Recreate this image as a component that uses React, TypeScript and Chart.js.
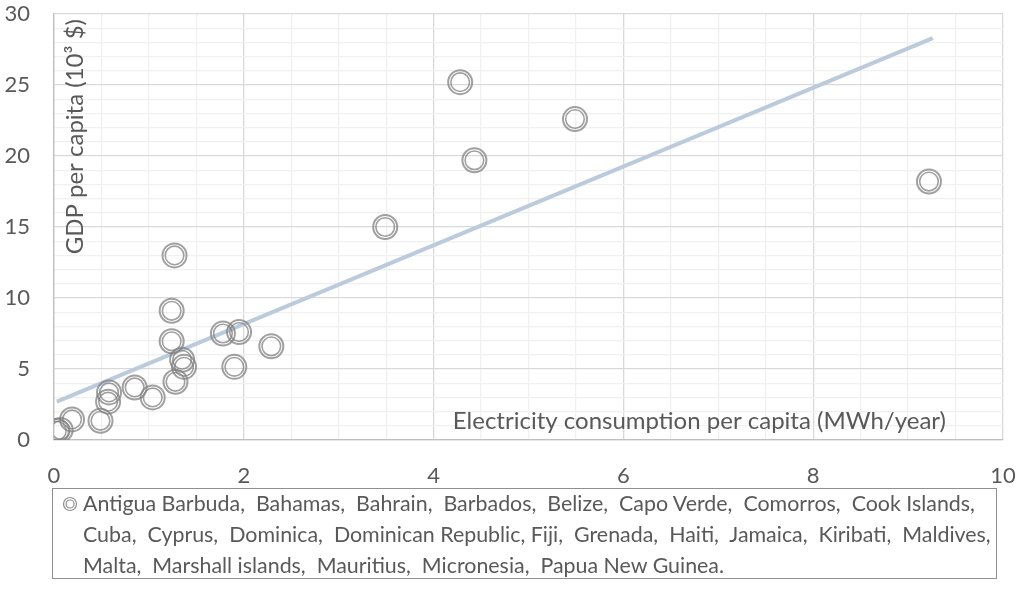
import React, { useEffect, useRef } from "react";
import { Chart, registerables } from "chart.js";

Chart.register(...registerables);

// Electricity consumption per capita (MWh/year)
const electricity = [0.03, 0.07, 0.19, 0.49, 0.57, 0.58, 0.85, 1.04, 1.28, 1.27, 1.24, 1.24, 1.35, 1.37, 1.78, 1.95, 1.9, 2.29, 3.49, 4.28, 4.43, 5.49, 9.22];
// GDP per capita (10^3 $)
const gdp = [0.65, 0.7, 1.45, 1.35, 2.7, 3.35, 3.7, 3.0, 4.1, 13.0, 9.1, 6.95, 5.65, 5.15, 7.5, 7.6, 5.15, 6.6, 15.0, 25.2, 19.7, 22.6, 18.2];
// Linear trend end points
const trendX = [0.03, 9.26];
const trendY = [2.7, 28.3];

const countries = [
  "Antigua Barbuda,  Bahamas,  Bahrain,  Barbados,  Belize,  Capo Verde,  Comorros,  Cook Islands,",
  "Cuba,  Cyprus,  Dominica,  Dominican Republic, Fiji,  Grenada,  Haiti,  Jamaica,  Kiribati,  Maldives,",
  "Malta,  Marshall islands,  Mauritius,  Micronesia,  Papua New Guinea.",
];

const xTitle = "Electricity consumption per capita (MWh/year)";
const yTitle = "GDP per capita (10³ $)";

const FONT = "Lato, 'Open Sans', sans-serif";
const TEXT = "#595959";

export default function App() {
  const ref = useRef<HTMLCanvasElement | null>(null);

  useEffect(() => {
    if (!ref.current) return;
    const pts = electricity.map((x, i) => ({ x, y: gdp[i] }));
    const trend = trendX.map((x, i) => ({ x, y: trendY[i] }));

    const titlePlugin = {
      id: "innerTitles",
      afterDraw(chart: any) {
        const { ctx, chartArea } = chart;
        ctx.save();
        ctx.fillStyle = TEXT;
        ctx.font = `24px ${FONT}`;
        ctx.textAlign = "right";
        ctx.textBaseline = "middle";
        ctx.fillText(xTitle, chartArea.right - 57, chartArea.bottom - 19);
        ctx.translate(chartArea.left + 21, chartArea.top + 5);
        ctx.rotate(-Math.PI / 2);
        ctx.fillText(yTitle, 0, 0);
        ctx.restore();
      },
    };

    const chart = new Chart(ref.current, {
      type: "scatter",
      data: {
        datasets: [
          {
            label: "outer",
            data: pts,
            pointRadius: 12,
            pointHoverRadius: 12,
            pointBorderWidth: 2,
            pointBorderColor: "rgba(128,128,128,0.75)",
            pointBackgroundColor: "rgba(0,0,0,0)",
            order: 2,
          },
          {
            label: "inner",
            data: pts,
            pointRadius: 9.3,
            pointHoverRadius: 9.3,
            pointBorderWidth: 1.6,
            pointBorderColor: "rgba(128,128,128,0.75)",
            pointBackgroundColor: "rgba(0,0,0,0)",
            order: 1,
          },
          {
            type: "line",
            label: "trend",
            data: trend,
            borderColor: "#bccbdc",
            borderWidth: 4,
            pointRadius: 0,
            showLine: true,
            order: 3,
          } as any,
        ],
      },
      options: {
        animation: false,
        responsive: false,
        maintainAspectRatio: false,
        layout: { padding: { top: 14, right: 21, left: 0, bottom: 0 } },
        plugins: {
          legend: { display: false },
          tooltip: { enabled: false },
        },
        scales: {
          x: {
            type: "linear",
            min: 0,
            max: 10,
            afterFit: (s: any) => {
              s.height = 154;
              s.paddingLeft = 0;
              s.paddingRight = 0;
            },
            ticks: {
              stepSize: 0.5,
              autoSkip: false,
              maxRotation: 0,
              padding: 23,
              color: TEXT,
              font: { family: FONT, size: 22 },
              callback: (v: any) => (Math.abs(v % 2) < 1e-9 ? String(v) : ""),
            },
            grid: {
              drawTicks: false,
              color: (c: any) => (Math.abs(c.tick.value % 2) < 1e-9 ? "#d9d9d9" : "#f0f0f0"),
              lineWidth: 1.3,
            },
            border: { color: "#bfbfbf", width: 1.3 },
          },
          y: {
            type: "linear",
            min: 0,
            max: 30,
            afterFit: (s: any) => {
              s.width = 54;
              s.paddingTop = 0;
              s.paddingBottom = 0;
            },
            ticks: {
              stepSize: 1,
              autoSkip: false,
              padding: 24,
              color: TEXT,
              font: { family: FONT, size: 22 },
              callback: (v: any) => (v % 5 === 0 ? String(v) : ""),
            },
            grid: {
              drawTicks: false,
              color: (c: any) => (c.tick.value % 5 === 0 ? "#d9d9d9" : "#f0f0f0"),
              lineWidth: 1.3,
            },
            border: { color: "#bfbfbf", width: 1.3 },
          },
        },
      },
      plugins: [titlePlugin],
    });
    return () => chart.destroy();
  }, []);

  return (
    <div style={{ position: "fixed", left: 0, top: 0, width: 1024, height: 594, background: "#fff" }}>
      <canvas ref={ref} width={1024} height={594} style={{ position: "absolute", left: 0, top: 0, width: 1024, height: 594 }} />
      <div
        style={{
          position: "absolute",
          left: 52,
          top: 488,
          width: 945,
          height: 91,
          border: "1.5px solid #8f8f8f",
          boxSizing: "border-box",
          fontFamily: FONT,
          fontSize: 21.4,
          color: TEXT,
          lineHeight: "31px",
        }}
      >
        <svg width={16} height={16} style={{ position: "absolute", left: 9, top: 7 }}>
          <circle cx={8} cy={8} r={6.5} fill="none" stroke="#909090" strokeWidth={1.2} />
          <circle cx={8} cy={8} r={4} fill="none" stroke="#909090" strokeWidth={1.2} />
        </svg>
        <div style={{ position: "absolute", left: 30, top: -1, whiteSpace: "pre" }}>
          {countries.map((l, i) => (
            <div key={i}>{l}</div>
          ))}
        </div>
      </div>
    </div>
  );
}
